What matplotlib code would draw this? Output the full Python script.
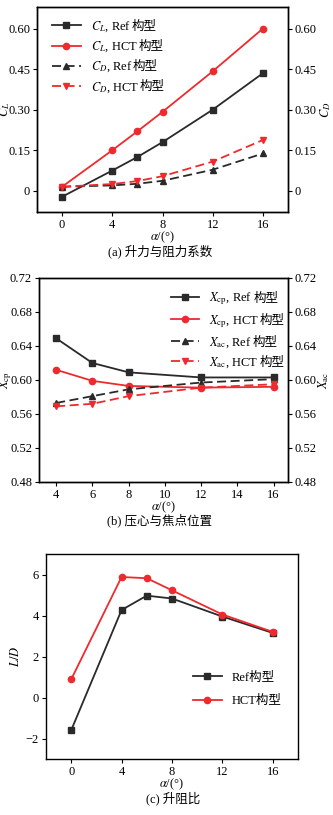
import numpy as np
import matplotlib
matplotlib.use("Agg")
import matplotlib.pyplot as plt

plt.rcParams['font.family'] = ['Liberation Serif', 'Noto Sans CJK SC']
plt.rcParams['mathtext.fontset'] = 'stix'
plt.rcParams['font.size'] = 9
plt.rcParams['axes.linewidth'] = 1.0
plt.rcParams['xtick.direction'] = 'out'
plt.rcParams['ytick.direction'] = 'out'
plt.rcParams['xtick.major.size'] = 3
plt.rcParams['ytick.major.size'] = 3
plt.rcParams['xtick.major.pad'] = 2
plt.rcParams['ytick.major.pad'] = 2

# (a) 升力与阻力系数
alpha_a = [0, 4, 6, 8, 12, 16]
cl_ref = [-0.022, 0.075, 0.125, 0.180, 0.300, 0.435]
cl_hct = [0.015, 0.150, 0.220, 0.292, 0.442, 0.600]
cd_ref = [0.015, 0.020, 0.026, 0.037, 0.078, 0.138]
cd_hct = [0.015, 0.025, 0.036, 0.054, 0.108, 0.188]

# (b) 压心与焦点位置
alpha_b = [4, 6, 8, 12, 16]
xcp_ref = [0.649, 0.620, 0.609, 0.603, 0.603]
xcp_hct = [0.612, 0.599, 0.593, 0.591, 0.592]
xac_ref = [0.573, 0.581, 0.589, 0.597, 0.601]
xac_hct = [0.569, 0.572, 0.581, 0.591, 0.595]

# (c) 升阻比
alpha_c = [0, 4, 6, 8, 12, 16]
ld_ref = [-1.60, 4.27, 4.97, 4.83, 3.95, 3.15]
ld_hct = [0.88, 5.88, 5.82, 5.23, 4.05, 3.20]

black = '#2a2a2a'
red = '#ee2a2e'
dash = (0, (5, 2.5))
lw = 1.3
ms = 4.5

fig = plt.figure(figsize=(3.33, 8.15), dpi=100)

# ---- (a)
ax = fig.add_axes([0.111, 0.740, 0.754, 0.2515])
ax.plot(alpha_a, cl_ref, color=black, lw=lw, marker='s', ms=ms, label=r'$C_L$, Ref')
ax.plot(alpha_a, cl_hct, color=red, lw=lw, marker='o', ms=ms, label=r'$C_L$, HCT')
ax.plot(alpha_a, cd_ref, color=black, lw=lw, ls=dash, marker='^', ms=ms, label=r'$C_D$, Ref')
ax.plot(alpha_a, cd_hct, color=red, lw=lw, ls=dash, marker='v', ms=ms, label=r'$C_D$, HCT')
ax.set_xlim(-2, 18)
ax.set_ylim(-0.078, 0.68)
ax.set_xticks([0, 4, 8, 12, 16])
ax.set_yticks([0, 0.15, 0.30, 0.45, 0.60])
ax.set_yticklabels(['0', '0.15', '0.30', '0.45', '0.60'])
ax.set_ylabel(r'$C_L$')
ax.yaxis.set_label_coords(-0.1, 0.5)
ax.set_xlabel(r'$\alpha$/(°)')
ax.xaxis.set_label_coords(0.5, -0.085)
leg_a = ax.legend(loc='upper left', bbox_to_anchor=(0.03, 0.975), frameon=False,
                  handlelength=2.3, labelspacing=0.45, borderaxespad=0.2)
axr = ax.twinx()
axr.set_ylim(ax.get_ylim())
axr.set_yticks([0, 0.15, 0.30, 0.45, 0.60])
axr.set_yticklabels(['0', '0.15', '0.30', '0.45', '0.60'])
axr.set_ylabel(r'$C_D$')
axr.yaxis.set_label_coords(1.12, 0.5)
fig.text(0.48, 0.692, '(a) 升力与阻力系数', ha='center', va='center')

# ---- (b)
ax = fig.add_axes([0.117, 0.4086, 0.748, 0.2503])
ax.plot(alpha_b, xcp_ref, color=black, lw=lw, marker='s', ms=ms, label=r'$X_{\rm cp}$, Ref')
ax.plot(alpha_b, xcp_hct, color=red, lw=lw, marker='o', ms=ms, label=r'$X_{\rm cp}$, HCT')
ax.plot(alpha_b, xac_ref, color=black, lw=lw, ls=dash, marker='^', ms=ms, label=r'$X_{\rm ac}$, Ref')
ax.plot(alpha_b, xac_hct, color=red, lw=lw, ls=dash, marker='v', ms=ms, label=r'$X_{\rm ac}$, HCT')
ax.set_xlim(3.05, 16.8)
ax.set_ylim(0.48, 0.72)
ax.set_xticks([4, 6, 8, 10, 12, 14, 16])
ax.set_yticks([0.48, 0.52, 0.56, 0.60, 0.64, 0.68, 0.72])
ax.set_ylabel(r'$X_{\rm cp}$')
ax.yaxis.set_label_coords(-0.1, 0.5)
ax.set_xlabel(r'$\alpha$/(°)')
ax.xaxis.set_label_coords(0.5, -0.085)
leg_b = ax.legend(loc='upper right', bbox_to_anchor=(0.915, 0.975), frameon=False,
                  handlelength=2.3, labelspacing=0.45, borderaxespad=0.2)
axr = ax.twinx()
axr.set_ylim(ax.get_ylim())
axr.set_yticks([0.48, 0.52, 0.56, 0.60, 0.64, 0.68, 0.72])
axr.set_ylabel(r'$X_{\rm ac}$')
axr.yaxis.set_label_coords(1.115, 0.5)
fig.text(0.48, 0.361, '(b) 压心与焦点位置', ha='center', va='center')

# ---- (c)
ax = fig.add_axes([0.138, 0.0687, 0.757, 0.2515])
ax.plot(alpha_c, ld_ref, color=black, lw=lw, marker='s', ms=ms, label='Ref构型')
ax.plot(alpha_c, ld_hct, color=red, lw=lw, marker='o', ms=ms, label='HCT构型')
ax.set_xlim(-2, 18)
ax.set_ylim(-3, 7)
ax.set_xticks([0, 4, 8, 12, 16])
ax.set_yticks([-2, 0, 2, 4, 6])
ax.set_yticklabels(['\u22122', '0', '2', '4', '6'])
ax.set_ylabel(r'$L/D$')
ax.yaxis.set_label_coords(-0.095, 0.5)
ax.set_xlabel(r'$\alpha$/(°)')
ax.xaxis.set_label_coords(0.5, -0.085)
ax.legend(loc='center right', bbox_to_anchor=(0.98, 0.34), frameon=False,
          handlelength=2.3, labelspacing=0.9)
fig.text(0.52, 0.021, '(c) 升阻比', ha='center', va='center')

# mathtext cannot draw CJK glyphs, so "构型" is appended after each legend label
fig.canvas.draw()
renderer = fig.canvas.get_renderer()
for leg in (leg_a, leg_b):
    for t in leg.get_texts():
        bb = t.get_window_extent(renderer)
        x0, y0 = t.get_transform().transform(t.get_position())
        fx, fy = fig.transFigure.inverted().transform((bb.x1 + 0.5, y0))
        fig.text(fx, fy, '构型', ha='left', va='baseline')

fig.savefig('out.png', dpi=100)
